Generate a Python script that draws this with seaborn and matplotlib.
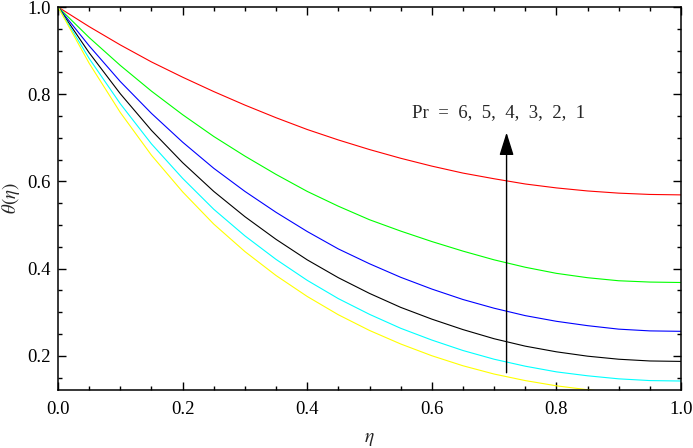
import matplotlib
matplotlib.use("Agg")
import matplotlib.pyplot as plt
from matplotlib.ticker import MultipleLocator
import seaborn as sns
import pandas as pd

# ---- data ----
eta = [0.0, 0.05, 0.1, 0.15, 0.2, 0.25, 0.3, 0.35, 0.4, 0.45, 0.5,
       0.55, 0.6, 0.65, 0.7, 0.75, 0.8, 0.85, 0.9, 0.95, 1.0]
theta_pr1 = [1.0, 0.955, 0.913, 0.874, 0.839, 0.806, 0.775, 0.746, 0.719, 0.695, 0.673,
             0.653, 0.635, 0.619, 0.606, 0.594, 0.585, 0.578, 0.573, 0.570, 0.569]
theta_pr2 = [1.0, 0.930, 0.866, 0.807, 0.753, 0.703, 0.658, 0.616, 0.577, 0.543, 0.512,
             0.486, 0.462, 0.440, 0.420, 0.403, 0.389, 0.379, 0.372, 0.369, 0.368]
theta_pr3 = [1.0, 0.911, 0.829, 0.756, 0.690, 0.630, 0.577, 0.529, 0.485, 0.445, 0.411,
             0.380, 0.353, 0.329, 0.309, 0.292, 0.279, 0.269, 0.261, 0.257, 0.256]
theta_pr4 = [1.0, 0.895, 0.801, 0.717, 0.643, 0.577, 0.519, 0.467, 0.420, 0.379, 0.343,
             0.311, 0.284, 0.260, 0.239, 0.222, 0.209, 0.199, 0.192, 0.188, 0.187]
theta_pr5 = [1.0, 0.882, 0.778, 0.686, 0.607, 0.536, 0.475, 0.421, 0.373, 0.331, 0.295,
             0.263, 0.236, 0.212, 0.192, 0.176, 0.163, 0.154, 0.147, 0.143, 0.142]
theta_pr6 = [1.0, 0.871, 0.758, 0.660, 0.576, 0.502, 0.439, 0.384, 0.336, 0.294, 0.258,
             0.227, 0.200, 0.177, 0.158, 0.143, 0.131, 0.122, 0.115, 0.112, 0.111]
pr_values = [1, 2, 3, 4, 5, 6]
colors = ["#ff0000", "#00ff00", "#0000ff", "#000000", "#00ffff", "#ffff00"]
annotation_text = "Pr  =  6,  5,  4,  3,  2,  1"
x_ticks = [0.0, 0.2, 0.4, 0.6, 0.8, 1.0]
x_ticklabels = ["0.0", "0.2", "0.4", "0.6", "0.8", "1.0"]
y_ticks = [0.2, 0.4, 0.6, 0.8, 1.0]
y_ticklabels = ["0.2", "0.4", "0.6", "0.8", "1.0"]

series = [theta_pr1, theta_pr2, theta_pr3, theta_pr4, theta_pr5, theta_pr6]
rows = []
for pr, vals in zip(pr_values, series):
    for e, t in zip(eta, vals):
        rows.append({"eta": e, "theta": t, "Pr": pr})
df = pd.DataFrame(rows)

sns.set_style("ticks")
plt.rcParams["font.family"] = "serif"
plt.rcParams["font.serif"] = ["Liberation Serif", "DejaVu Serif"]
plt.rcParams["mathtext.fontset"] = "stix"

fig = plt.figure(figsize=(6.93, 4.48), dpi=100)
ax = fig.add_axes([58 / 693, 1 - 390 / 448, 623 / 693, 383 / 448])

sns.lineplot(data=df, x="eta", y="theta", hue="Pr", palette=colors,
             linewidth=0.8, legend=False, ax=ax, sort=True)

ax.set_xlim(0, 1)
ax.set_ylim(0.1214, 1.0)
ax.xaxis.set_minor_locator(MultipleLocator(0.05))
ax.yaxis.set_minor_locator(MultipleLocator(0.05))
ax.set_xticks(x_ticks)
ax.set_xticklabels(x_ticklabels)
ax.set_yticks(y_ticks)
ax.set_yticklabels(y_ticklabels)
ax.tick_params(which="both", direction="in", top=True, right=True,
               labelsize=13.5, width=1.0, colors="black")
ax.tick_params(which="major", length=5.5)
ax.tick_params(which="minor", length=3)
ax.tick_params(axis="y", which="major", pad=5)
ax.tick_params(axis="x", which="major", pad=8)
for s in ax.spines.values():
    s.set_linewidth(1.1)
    s.set_color("black")

ax.set_xlabel(r"$\eta$", fontsize=14, labelpad=9)
ax.set_ylabel(r"$\theta(\eta)$", fontsize=13.5, labelpad=4)

ax.annotate("", xy=(0.72, 0.712), xytext=(0.72, 0.161),
            arrowprops=dict(arrowstyle="-|>,head_length=0.7,head_width=0.22",
                            mutation_scale=20, lw=1.0, color="black",
                            shrinkA=0, shrinkB=0))
ax.text(0.569, 0.758, annotation_text, fontsize=13.5, ha="left", va="center")

fig.savefig("out.png", dpi=100)
